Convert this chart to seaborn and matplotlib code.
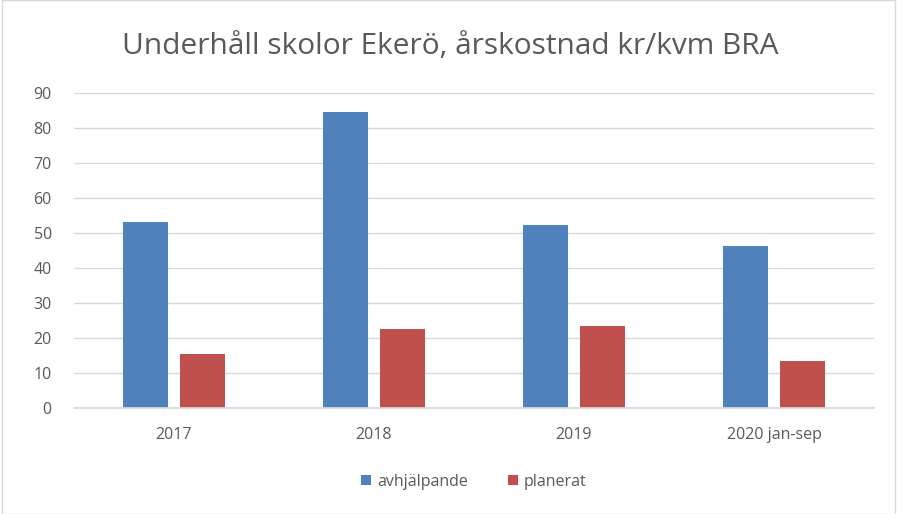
import matplotlib
matplotlib.use("Agg")
import matplotlib.pyplot as plt
import pandas as pd
import seaborn as sns

categories = ['2017', '2018', '2019', '2020 jan-sep']
avhjalpande = [53.2, 84.6, 52.3, 46.2]
planerat = [15.4, 22.5, 23.5, 13.3]
series_names = ['avhjälpande', 'planerat']

colors = ['#4F81BD', '#C0504D']

sns.set_theme(style="white")
plt.rcParams['font.family'] = ['Open Sans', 'DejaVu Sans']

data = pd.DataFrame({
    'Kategori': categories * 2,
    'Serie': [series_names[0]] * 4 + [series_names[1]] * 4,
    'Värde': avhjalpande + planerat,
})

fig = plt.figure(figsize=(9.01, 5.14), dpi=100)
ax = fig.add_axes([74 / 901, 1 - 408 / 514, 800 / 901, (408 - 92.7) / 514])

sns.barplot(data=data, x='Kategori', y='Värde', hue='Serie', palette=colors,
            width=0.563, gap=0.2, saturation=1, ax=ax, errorbar=None, linewidth=0)

ax.set_ylim(0, 90)
ax.set_yticks(range(0, 91, 10))
ax.set_xlim(-0.5, 3.5)
ax.yaxis.grid(True, color='#D9D9D9', linewidth=1)
ax.set_axisbelow(True)
for s in ['left', 'right', 'top']:
    ax.spines[s].set_visible(False)
ax.spines['bottom'].set_color('#D9D9D9')
ax.tick_params(axis='both', length=0, labelsize=11.5, labelcolor='#595959')
ax.tick_params(axis='y', pad=16)
ax.tick_params(axis='x', pad=14)
ax.set_xlabel('')
ax.set_ylabel('')

ax.legend(loc='center', bbox_to_anchor=(0.5, 1 - (482 - 92.7) / (408 - 92.7)), ncol=2,
          frameon=False, fontsize=11.5, handlelength=0.6, handleheight=0.6,
          columnspacing=2.5, handletextpad=0.4, labelcolor='#595959')

fig.text(0.5, 1 - 46 / 514, 'Underhåll skolor Ekerö, årskostnad kr/kvm BRA',
         ha='center', va='center', fontsize=21.5, color='#595959')

fig.patches.append(plt.Rectangle((2 / 901, 0), 893 / 901, 1, transform=fig.transFigure,
                                 fill=False, edgecolor='#D9D9D9', linewidth=1))

fig.savefig('out.png', dpi=100)
